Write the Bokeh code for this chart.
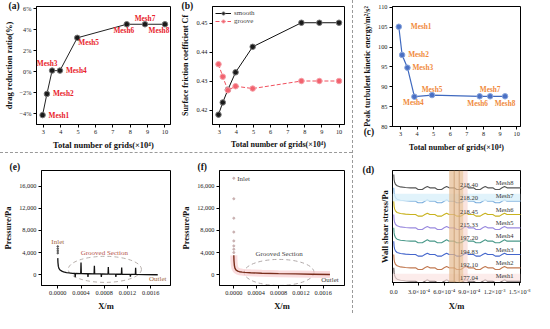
from bokeh.plotting import figure
from bokeh.models import (Label, Title, FixedTicker, NumeralTickFormatter, Range1d, BoxAnnotation,
                          Spacer, Span, LinearAxis)
from bokeh.layouts import row, column
from bokeh.embed import file_html
from bokeh.resources import INLINE

SERIF = "Liberation Serif"

# ---------------- data ----------------
mesh_names = ["Mesh1", "Mesh2", "Mesh3", "Mesh4", "Mesh5", "Mesh6", "Mesh7", "Mesh8"]
grids_ab = [2.95, 3.2, 3.5, 3.95, 4.95, 7.8, 8.85, 10.0]
drag_reduction = [-4.2, -2.17, 0.06, 0.06, 3.2, 4.5, 4.5, 4.5]
cf_smooth = [0.4184, 0.4226, 0.4270, 0.4330, 0.4418, 0.4501, 0.4501, 0.4501]
cf_groove = [0.4358, 0.4315, 0.4268, 0.4282, 0.4274, 0.4300, 0.4300, 0.4300]
grids_c = [2.9, 3.1, 3.42, 3.84, 4.9, 7.77, 8.4, 9.3]
tke_peak = [105.1, 98.0, 94.8, 87.5, 87.9, 87.6, 87.6, 87.6]

# (e) grooved channel pressure
xe = [0, 0.000003, 0.00001, 0.00002, 0.00004, 0.00007, 0.0001, 0.00015, 0.0002, 0.00025,
      0.000295, 0.0003, 0.000305, 0.000395, 0.0004, 0.000405,
      0.000515, 0.00052, 0.000525, 0.000625, 0.00063, 0.000635,
      0.000745, 0.00075, 0.000755, 0.000865, 0.00087, 0.000875,
      0.000995, 0.001, 0.001005, 0.001095, 0.0011, 0.001105,
      0.001245, 0.00125, 0.001255, 0.001335, 0.00134, 0.001345,
      0.0015, 0.00172]
pe = [3000, 2200, 1500, 1150, 850, 650, 520, 400, 320, 250,
      220, -450, 220, 200, 2200, 200,
      180, -400, 180, 160, 1600, 160,
      140, -400, 140, 120, 1400, 120,
      100, -400, 100, 90, 1300, 90,
      70, -350, 70, 60, 1250, 60,
      30, 0]
inlet_x_e = [0, 0, 0, 0]
inlet_p_e = [3900, 4300, 4700, 5100]

# (f) smooth channel pressure
xf = [0, 0.000003, 0.00001, 0.00002, 0.00004, 0.00007, 0.0001, 0.00015, 0.0002,
      0.0003, 0.0005, 0.0008, 0.0011, 0.0014, 0.00172]
pf = [3500, 2500, 1700, 1200, 850, 650, 550, 470, 420, 350, 280, 200, 150, 100, 50]
inlet_x_f = [0, 0, 0, 0, 0, 0, 0, 0]
inlet_p_f = [4000, 4600, 5200, 6100, 7700, 10200, 13700, 17400]

# grooved-section ellipses: centre x, centre y, width, height
ell_e = [0.00081, 970, 0.00126, 4700]
ell_f = [0.00081, 415, 0.00125, 4700]

# (d) wall shear stress profile (shape, offset per mesh)
wss_x = [0.0, 0.000004, 0.00001, 0.00002, 0.00004, 0.00008, 0.00014, 0.0002,
         0.00026, 0.00029, 0.00034, 0.00037, 0.0004, 0.00043,
         0.00049, 0.00052, 0.00057, 0.0006, 0.00063, 0.00066,
         0.00072, 0.00075, 0.0008, 0.00083, 0.00086, 0.00089,
         0.00095, 0.00098, 0.00103, 0.00106, 0.00109, 0.00112,
         0.00118, 0.00121, 0.00126, 0.00129, 0.00132, 0.00135,
         0.0014, 0.00155]
wss_shape = [1.0, 0.62, 0.42, 0.27, 0.15, 0.07, 0.03, 0.0,
             0.0, -0.12, -0.12, 0.0, 0.1, 0.0,
             0.0, -0.12, -0.12, 0.0, 0.1, 0.0,
             0.0, -0.12, -0.12, 0.0, 0.1, 0.0,
             0.0, -0.12, -0.12, 0.0, 0.1, 0.0,
             0.0, -0.12, -0.12, 0.0, 0.1, 0.0,
             0.0, 0.0]
wss_levels = [1, 2, 3, 4, 5, 6, 7, 8]
wss_values = ["177.04", "192.10", "194.83", "197.20", "215.33", "218.45", "218.20", "218.40"]
wss_colors = ["#5e5252", "#c27a52", "#4466cc", "#4a998a", "#9a8ade", "#c8b21e", "#78acdc", "#555555"]
wss_xticks = [0, 0.0003, 0.0006, 0.0009, 0.0012, 0.0015]
wss_xlabels = ["0.0", "3.0×10⁻⁴", "6.0×10⁻⁴", "9.0×10⁻⁴", "1.2×10⁻³", "1.5×10⁻³"]


def style_axis(ax, lab_size):
    ax.axis_label_text_font = SERIF
    ax.axis_label_text_font_style = "bold"
    ax.axis_label_text_font_size = lab_size
    ax.axis_label_text_color = "#111111"
    ax.major_label_text_font = SERIF
    ax.major_label_text_font_size = "6.3px"
    ax.major_label_text_color = "#222222"
    ax.major_tick_out = 3
    ax.major_tick_in = 0
    ax.minor_tick_line_color = None
    ax.axis_label_standoff = 3
    ax.major_label_standoff = 2
    ax.axis_line_color = "black"


def style(p, xlabel, ylabel, lab_size="8.5px"):
    p.outline_line_color = "black"
    p.outline_line_width = 1
    p.xgrid.visible = False
    p.ygrid.visible = False
    p.background_fill_color = "white"
    p.border_fill_color = "white"
    p.xaxis.axis_label = xlabel
    p.yaxis.axis_label = ylabel
    for ax in (p.xaxis[0], p.yaxis[0]):
        style_axis(ax, lab_size)


def mk(w, h, xr, yr, bl, br, bt, bb):
    return figure(width=w, height=h, x_range=Range1d(*xr), y_range=Range1d(*yr),
                  output_backend="svg", toolbar_location=None,
                  min_border_left=bl, min_border_right=br, min_border_top=bt, min_border_bottom=bb)


def title_label(p, txt, off, standoff):
    p.add_layout(Title(text=txt, align="left", offset=off, text_font=SERIF, text_font_style="bold",
                       text_font_size="9.5px", text_color="#111111", standoff=standoff), "above")


def add_labels(p, xs, ys, offs, color):
    for name, x, y, (dx, dy, al) in zip(mesh_names, xs, ys, offs):
        p.add_layout(Label(x=x, y=y, x_offset=dx, y_offset=dy, text=name, text_font=SERIF,
                           text_font_style="bold", text_font_size="7.3px", text_color=color,
                           text_align=al, text_baseline="middle"))


GRID_LABEL = "Total number of grids(×10⁴)"

# ---------------- (a) ----------------
pa = mk(178, 152, (2.6, 10.32), (-5.1, 6.2), 36, 8, 6, 24)
style(pa, GRID_LABEL, "drag reduction ratio(%)")
pa.xaxis.ticker = FixedTicker(ticks=[3, 4, 5, 6, 7, 8, 9, 10])
pa.yaxis.ticker = FixedTicker(ticks=[-4, -2, 0, 2, 4, 6])
pa.yaxis.major_label_overrides = {-4: "−4%", -2: "−2%", 0: "0%", 2: "2%", 4: "4%", 6: "6%"}
pa.line(grids_ab, drag_reduction, line_color="#222222", line_width=1)
pa.scatter(grids_ab, drag_reduction, size=5.5, fill_color="#1a1a1a", line_color="#777777")
offs_a = [(6, 0, "left"), (6, 0, "left"), (-5, 7, "center"), (6, 0, "left"),
          (1, -5, "left"), (-3, -6, "center"), (0, 6, "center"), (-6, -6, "center")]
add_labels(pa, grids_ab, drag_reduction, offs_a, "#e8212b")
title_label(pa, "(a)", -28, -9)

# ---------------- (b) ----------------
pb = mk(174, 152, (2.6, 10.32), (0.415, 0.4557), 33, 8, 6, 24)
style(pb, GRID_LABEL, "Surface friction coefficient Cf", "8px")
pb.xaxis.ticker = FixedTicker(ticks=[3, 4, 5, 6, 7, 8, 9, 10])
pb.yaxis.ticker = FixedTicker(ticks=[0.42, 0.43, 0.44, 0.45])
pb.yaxis.formatter = NumeralTickFormatter(format="0.00")
pb.line(grids_ab, cf_smooth, line_color="#111111", line_width=1, legend_label="smooth")
pb.scatter(grids_ab, cf_smooth, size=5.5, fill_color="#1a1a1a", line_color="#777777", legend_label="smooth")
pb.line(grids_ab, cf_groove, line_color="#f0505e", line_width=1, line_dash="4 2", legend_label="groove")
pb.scatter(grids_ab, cf_groove, size=5.5, fill_color="#f2626e", line_color="#f5a0a8", legend_label="groove")
lg = pb.legend[0]
lg.location = "top_left"
lg.background_fill_alpha = 0
lg.border_line_color = None
lg.label_text_font = SERIF
lg.label_text_font_size = "7px"
lg.glyph_width = 16
lg.glyph_height = 8
lg.label_height = 8
lg.label_standoff = 3
lg.spacing = 0
lg.padding = 1
lg.margin = 3
title_label(pb, "(b)", -31, -9)

# ---------------- (c) ----------------
pc = mk(180, 154, (2.52, 10.23), (80, 110.2), 38, 14, 6, 26)
style(pc, None, "Peak turbulent kinetic energy/m²/s²", "8px")
pc.xaxis.ticker = FixedTicker(ticks=[3, 4, 5, 6, 7, 8, 9, 10])
pc.yaxis.ticker = FixedTicker(ticks=[80, 85, 90, 95, 100, 105, 110])
pc.line(grids_c, tke_peak, line_color="#3f69bf", line_width=1.2)
pc.scatter(grids_c, tke_peak, size=5.5, fill_color="#4a70c4", line_color="#8aa6dc")
offs_c = [(12, 0, "left"), (6, 0, "left"), (5, 0, "left"), (-1, -6, "center"),
          (0, 6, "center"), (-2, -7, "center"), (0, 7, "center"), (0, -7, "center")]
add_labels(pc, grids_c, tke_peak, offs_c, "#f08a3c")
# second bottom axis: carries the panel tag "(c)" beside the tick labels and the axis title
c_tag_tick = 2.53
ax2 = LinearAxis(ticker=FixedTicker(ticks=[c_tag_tick]),
                 major_label_overrides={c_tag_tick: "(c)" + "\u00a0" * 20},
                 axis_label=GRID_LABEL)
style_axis(ax2, "8px")
ax2.axis_line_color = None
ax2.major_tick_line_color = None
ax2.major_tick_out = 0
ax2.major_label_standoff = -12
ax2.major_label_text_font_size = "9.5px"
ax2.major_label_text_font_style = "bold"
ax2.major_label_text_color = "#111111"
pc.add_layout(ax2, "below")

# ---------------- (e) ----------------
pe_fig = mk(178, 159, (-0.00028, 0.00194), (-1940, 18800), 36, 8, 16, 24)
style(pe_fig, "X/m", "Pressure/Pa")
pe_fig.xaxis.ticker = FixedTicker(ticks=[0, 0.0004, 0.0008, 0.0012, 0.0016])
pe_fig.xaxis.formatter = NumeralTickFormatter(format="0.0000")
pe_fig.yaxis.ticker = FixedTicker(ticks=[0, 4000, 8000, 12000, 16000])
pe_fig.yaxis.formatter = NumeralTickFormatter(format="0,0")
pe_fig.ellipse(x=[ell_e[0]], y=[ell_e[1]], width=ell_e[2], height=ell_e[3], fill_color=None,
               line_color="#b8b0ac", line_dash="4 3", line_width=1)
pe_fig.line(xe, pe, line_color="#111111", line_width=1.3)
pe_fig.scatter(inlet_x_e, inlet_p_e, size=1.6, color="#555555")
for txt, x, y, col in [("Inlet", 0.0, 5900, "#a3683c"), ("Grooved Section", 0.0008, 3870, "#b5544a"),
                       ("Outlet", 0.00172, -720, "#a3683c")]:
    pe_fig.add_layout(Label(x=x, y=y, text=txt, text_font=SERIF, text_font_size="7px",
                            text_color=col, text_align="center", text_baseline="middle"))
title_label(pe_fig, "(e)", -32, -2)

# ---------------- (f) ----------------
pf_fig = mk(174, 159, (-0.000256, 0.00198), (-1940, 18800), 33, 8, 16, 24)
style(pf_fig, "X/m", "Pressure/Pa")
pf_fig.xaxis.ticker = FixedTicker(ticks=[0, 0.0004, 0.0008, 0.0012, 0.0016])
pf_fig.xaxis.formatter = NumeralTickFormatter(format="0.0000")
pf_fig.yaxis.ticker = FixedTicker(ticks=[0, 4000, 8000, 12000, 16000])
pf_fig.yaxis.formatter = NumeralTickFormatter(format="0,0")
pf_fig.ellipse(x=[ell_f[0]], y=[ell_f[1]], width=ell_f[2], height=ell_f[3], fill_color=None,
               line_color="#b0a8a8", line_dash="4 3", line_width=1)
pf_fig.line(xf, pf, line_color="#f7c4c8", line_width=7, line_alpha=0.6)
pf_fig.line(xf, pf, line_color="#7a2e1c", line_width=1.4)
pf_fig.scatter(inlet_x_f, inlet_p_f, size=2, color="#c9b0b0")
for txt, x, y, al in [("Inlet", 0.00006, 17300, "left"), ("Grooved Section", 0.00081, 3700, "center"),
                      ("Outlet", 0.00172, -1000, "center")]:
    pf_fig.add_layout(Label(x=x, y=y, text=txt, text_font=SERIF, text_font_size="7px",
                            text_color="#444444", text_align=al, text_baseline="middle"))
title_label(pf_fig, "(f)", -22, -2)

# ---------------- (d) ----------------
pd_fig = mk(180, 159, (-0.000015, 0.00151), (0.9, 9.3), 32, 10, 16, 24)
style(pd_fig, "X/m", "Wall shear stress/Pa")
pd_fig.xaxis.ticker = FixedTicker(ticks=wss_xticks)
pd_fig.xaxis.major_label_overrides = {t: s for t, s in zip(wss_xticks, wss_xlabels)}
pd_fig.yaxis.ticker = FixedTicker(ticks=[])
pd_fig.add_layout(BoxAnnotation(bottom=7.0, top=7.55, fill_color="#d9f0fa", fill_alpha=0.8, line_color=None))
pd_fig.add_layout(BoxAnnotation(bottom=1.0, top=1.55, fill_color="#fbe4e2", fill_alpha=0.7, line_color=None))
pd_fig.add_layout(BoxAnnotation(left=0.00066, right=0.00083, fill_color="#e6bb90", fill_alpha=0.7, line_color=None))
pd_fig.add_layout(BoxAnnotation(left=0.00083, right=0.00088, fill_color="#f6d2cc", fill_alpha=0.6, line_color=None))
pd_fig.add_layout(Span(location=0.00072, dimension="height", line_color="#c79a70", line_width=0.8))
pd_fig.add_layout(Span(location=0.00078, dimension="height", line_color="#c79a70", line_width=0.8))
for lvl, col, val, name in zip(wss_levels, wss_colors, wss_values, mesh_names):
    pd_fig.line(wss_x, [lvl + d for d in wss_shape], line_color=col, line_width=1.1)
    pd_fig.add_layout(Label(x=0.00079, y=lvl, y_offset=1, text=val, text_font=SERIF,
                            text_font_size="6.5px", text_color="#333333", text_baseline="bottom"))
    pd_fig.add_layout(Label(x=0.00132, y=lvl, y_offset=2, text=name, text_font=SERIF,
                            text_font_size="6.5px", text_color="#333333", text_align="center",
                            text_baseline="bottom"))
title_label(pd_fig, "(d)", -30, -9)

# ---------------- layout ----------------
hsep = Spacer(width=352, height=2, styles={"border-top": "1px dashed #9a9a9a", "box-sizing": "border-box"})
vsep = Spacer(width=2, height=313, styles={"border-left": "1px dashed #9a9a9a", "box-sizing": "border-box"})
left_col = column(row(pa, pb), hsep, row(pe_fig, pf_fig))
right_col = column(pc, pd_fig)
layout = row(left_col, vsep, right_col)

open("out.html", "w").write(file_html(layout, INLINE))
